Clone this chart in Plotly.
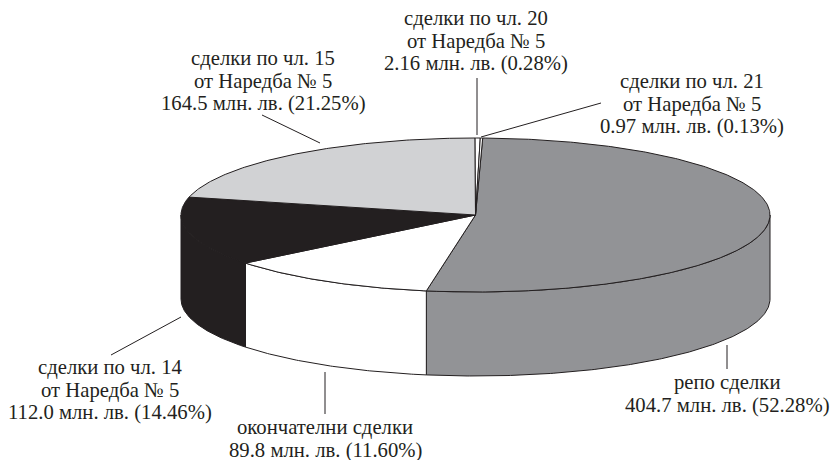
import numpy as np
import plotly.graph_objects as go

# ---- data, clockwise from the top of the pie ----
names = ["репо сделки", "окончателни сделки", "сделки по чл. 14", "сделки по чл. 15", "сделки по чл. 20", "сделки по чл. 21"]
suffix = ["", "", "от Наредба № 5", "от Наредба № 5", "от Наредба № 5", "от Наредба № 5"]
amounts = ["404.7", "89.8", "112.0", "164.5", "2.16", "0.97"]
shares = [52.28, 11.60, 14.46, 21.25, 0.28, 0.13]
colors = ["#929396", "#ffffff", "#231f20", "#d1d2d4", "#ffffff", "#ffffff"]

# ---- geometry and placement (pixels of the 832x460 page) ----
CX, CY, RX, RY, DEPTH = 475.5, 215.0, 294.5, 77.0, 84.0
START_DEG = 1.4
INK = "#231f20"
LINE_GAP = 22.5
label_pos = [(727, 394), (325, 439), (110, 390), (263, 81), (476, 41), (692, 104)]
leaders = [((727, 345), (727, 369)), ((325, 372), (325, 414)), ((111, 355), (181, 317)),
           ((262, 115), (320, 143)), ((477, 78), (477, 135)), ((481, 137), (601, 103))]


def rim(a0, a1, drop=0.0):
    t = np.radians(np.linspace(a0, a1, max(int(abs(a1 - a0) * 2) + 2, 3)))
    return CX + RX * np.sin(t), CY - RY * np.cos(t) + drop


fig = go.Figure()


def patch(x, y, color):
    fig.add_trace(go.Scatter(x=x, y=y, mode="lines", fill="toself", fillcolor=color,
                             line=dict(color=INK, width=1), hoverinfo="skip", showlegend=False))


edges = START_DEG + np.concatenate([[0], np.cumsum(shares)]) * 3.6

# side walls: only the front half of the rim is visible
for s, color in enumerate(colors):
    a0, a1 = max(edges[s], 90.0), min(edges[s + 1], 270.0)
    if a1 > a0:
        xt, yt = rim(a0, a1)
        xb, yb = rim(a1, a0, DEPTH)
        patch(np.r_[xt, xb, xt[0]], np.r_[yt, yb, yt[0]], color)

# top faces
for s, color in enumerate(colors):
    xt, yt = rim(edges[s], edges[s + 1])
    patch(np.r_[CX, xt, CX], np.r_[CY, yt, CY], color)

# leader lines
for (p0, p1) in leaders:
    fig.add_trace(go.Scatter(x=[p0[0], p1[0]], y=[p0[1], p1[1]], mode="lines",
                             line=dict(color=INK, width=1), hoverinfo="skip", showlegend=False))

# labels, one annotation per line so the leading stays tight
for s, (x, y) in enumerate(label_pos):
    lines = [names[s]] + ([suffix[s]] if suffix[s] else []) + [f"{amounts[s]} млн. лв. ({shares[s]:.2f}%)"]
    for i, line in enumerate(lines):
        fig.add_annotation(x=x, y=y + (i - (len(lines) - 1) / 2) * LINE_GAP, text=line,
                           showarrow=False, xanchor="center", yanchor="middle",
                           font=dict(family="Liberation Serif", size=20.7, color=INK))

fig.update_layout(width=832, height=460, margin=dict(l=0, r=0, t=0, b=0),
                  paper_bgcolor="white", plot_bgcolor="white",
                  xaxis=dict(range=[0, 832], visible=False),
                  yaxis=dict(range=[460, 0], visible=False))
fig.write_html("out.html", config=dict(displayModeBar=False),
               post_script="document.body.style.margin='0';document.documentElement.style.overflow='hidden';")
